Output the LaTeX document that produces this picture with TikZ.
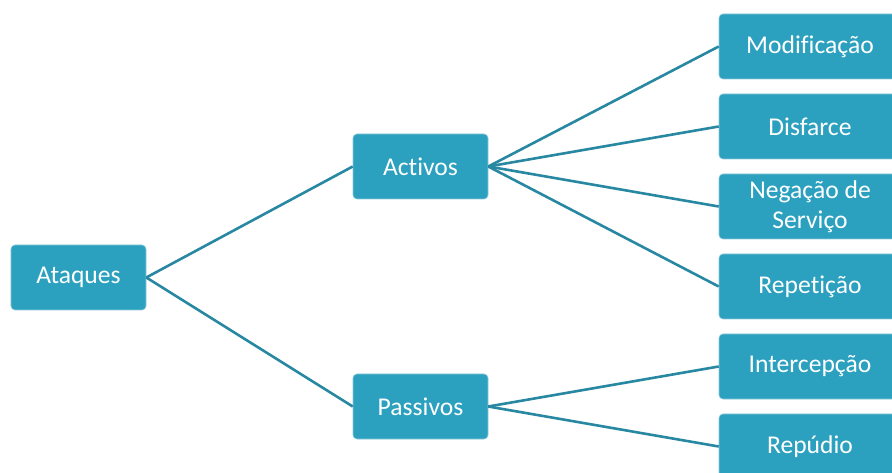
\documentclass[tikz,border=0pt]{standalone}
\usepackage{fontspec}
\setmainfont{Carlito}[Ligatures=NoCommon]
\definecolor{boxfill}{RGB}{44,161,191}
\definecolor{boxedge}{RGB}{140,200,218}
\definecolor{linkcol}{RGB}{40,136,162}
\begin{document}
\begin{tikzpicture}[x=1bp,y=-1bp,
  item/.style={rectangle, rounded corners=4bp, fill=boxfill, draw=boxedge,
    line width=0.6bp, minimum width=135bp, minimum height=65bp,
    text=white, align=center, inner sep=0pt,
    font=\fontsize{25.6bp}{30bp}\selectfont},
  leaf/.style={item, minimum width=182bp},
  link/.style={draw=linkcol, line width=2.6bp}]
\useasboundingbox (0,0) rectangle (892,473);
\clip (0,0) rectangle (892,473);
% root and first level
\node[item] (ataques)  at (78.5,277.5) {Ataques};
\node[item] (activos)  at (420.5,166.5) {Activos};
\node[item] (passivos) at (420.5,406.5) {Passivos};
% leaves
\node[leaf] (modif)  at (810,46.5)  {Modificação};
\node[leaf] (disf)   at (810,126.5) {Disfarce};
\node[leaf] (negac)  at (810,206.5) {Negação de\\Serviço};
\node[leaf] (repet)  at (810,286.5) {Repetição};
\node[leaf] (interc) at (810,366.5) {Intercepção};
\node[leaf] (repud)  at (810,446.5) {Repúdio};
% connectors
\path[link] (ataques.east) -- (activos.west);
\path[link] (ataques.east) -- (passivos.west);
\path[link] (activos.east) -- (modif.west);
\path[link] (activos.east) -- (disf.west);
\path[link] (activos.east) -- (negac.west);
\path[link] (activos.east) -- (repet.west);
\path[link] (passivos.east) -- (interc.west);
\path[link] (passivos.east) -- (repud.west);
\end{tikzpicture}
\end{document}
